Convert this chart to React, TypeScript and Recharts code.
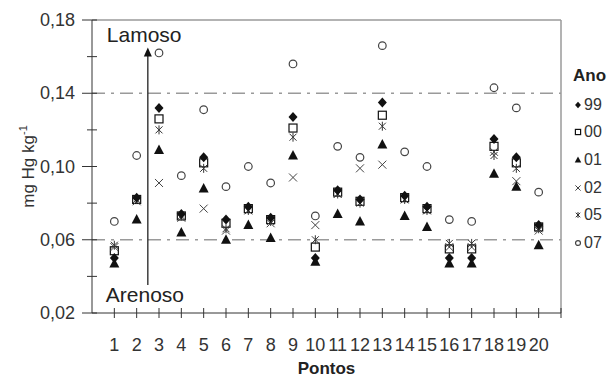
import React from 'react'
import {
  ScatterChart,
  Scatter,
  XAxis,
  YAxis,
  ReferenceLine,
  Label
} from 'recharts'

const pontos = [1, 2, 3, 4, 5, 6, 7, 8, 9, 10, 11, 12, 13, 14, 15, 16, 17, 18, 19, 20]

const ano99 = [0.050, 0.083, 0.132, 0.074, 0.105, 0.071, 0.078, 0.072, 0.127, 0.050, 0.087, 0.082, 0.135, 0.084, 0.078, 0.050, 0.050, 0.115, 0.105, 0.068]
const ano00 = [0.054, 0.082, 0.126, 0.073, 0.102, 0.069, 0.077, 0.071, 0.121, 0.056, 0.086, 0.081, 0.128, 0.083, 0.077, 0.055, 0.055, 0.111, 0.102, 0.067]
const ano01 = [0.047, 0.071, 0.109, 0.064, 0.088, 0.060, 0.068, 0.061, 0.106, 0.048, 0.074, 0.070, 0.112, 0.073, 0.067, 0.047, 0.047, 0.096, 0.089, 0.057]
const ano02 = [0.056, 0.081, 0.091, 0.072, 0.077, 0.065, 0.076, 0.069, 0.094, 0.068, 0.085, 0.099, 0.101, 0.082, 0.076, 0.056, 0.056, 0.108, 0.092, 0.065]
const ano05 = [0.057, 0.082, 0.120, 0.073, 0.099, 0.066, 0.076, 0.070, 0.116, 0.060, 0.085, 0.080, 0.122, 0.082, 0.076, 0.058, 0.058, 0.106, 0.099, 0.066]
const ano07 = [0.070, 0.106, 0.162, 0.095, 0.131, 0.089, 0.100, 0.091, 0.156, 0.073, 0.111, 0.105, 0.166, 0.108, 0.100, 0.071, 0.070, 0.143, 0.132, 0.086]

const yTicks = [0.02, 0.04, 0.06, 0.08, 0.10, 0.12, 0.14, 0.16, 0.18]
const xTicks = [0, 1, 2, 3, 4, 5, 6, 7, 8, 9, 10, 11, 12, 13, 14, 15, 16, 17, 18, 19, 20, 21]

const FONT = '"Liberation Sans", Arial, sans-serif'
const INK = '#222'
const GRAY = '#9a9a9a'

const toPoints = (values: number[]) => pontos.map((p, i) => ({ x: p, y: values[i] }))

type ShapeProps = { cx?: number; cy?: number; k?: number }

const Diamond = ({ cx = 0, cy = 0, k = 1 }: ShapeProps) => (
  <path d={`M${cx},${cy - 5 * k}L${cx + 4.5 * k},${cy}L${cx},${cy + 5 * k}L${cx - 4.5 * k},${cy}Z`} fill="#111" />
)
const Square = ({ cx = 0, cy = 0, k = 1 }: ShapeProps) => (
  <rect x={cx - 4 * k} y={cy - 4 * k} width={8 * k} height={8 * k} fill="none" stroke="#111" strokeWidth={1.2} />
)
const Triangle = ({ cx = 0, cy = 0, k = 1 }: ShapeProps) => (
  <path d={`M${cx},${cy - 5.5 * k}L${cx + 5 * k},${cy + 4 * k}L${cx - 5 * k},${cy + 4 * k}Z`} fill="#111" />
)
const Cross = ({ cx = 0, cy = 0, k = 1 }: ShapeProps) => (
  <path
    d={`M${cx - 4 * k},${cy - 4 * k}L${cx + 4 * k},${cy + 4 * k}M${cx - 4 * k},${cy + 4 * k}L${cx + 4 * k},${cy - 4 * k}`}
    stroke="#444"
    strokeWidth={1}
    fill="none"
  />
)
const Asterisk = ({ cx = 0, cy = 0, k = 1 }: ShapeProps) => (
  <path
    d={`M${cx - 3.5 * k},${cy - 3.5 * k}L${cx + 3.5 * k},${cy + 3.5 * k}M${cx - 3.5 * k},${cy + 3.5 * k}L${cx + 3.5 * k},${cy - 3.5 * k}M${cx},${cy - 4.5 * k}L${cx},${cy + 4.5 * k}`}
    stroke="#333"
    strokeWidth={1}
    fill="none"
  />
)
const Circle = ({ cx = 0, cy = 0, k = 1 }: ShapeProps) => (
  <circle cx={cx} cy={cy} r={3.8 * k} fill="none" stroke="#444" strokeWidth={1.2} />
)

const series = [
  { name: '99', values: ano99, shape: Diamond },
  { name: '00', values: ano00, shape: Square },
  { name: '01', values: ano01, shape: Triangle },
  { name: '02', values: ano02, shape: Cross },
  { name: '05', values: ano05, shape: Asterisk },
  { name: '07', values: ano07, shape: Circle }
]

// drawing order: circles at the back, black triangles on top
const drawOrder = ['07', '00', '02', '05', '99', '01']

const YTick = (props: any) => {
  const { x, y, payload } = props
  const v = payload.value as number
  const major = Math.round(v * 100) % 4 === 2
  return (
    <g>
      <line x1={x - (major ? 10 : 5)} x2={x + 5} y1={y} y2={y} stroke="#333" strokeWidth={1} />
      {major && (
        <text x={x - 17} y={y + 6} textAnchor="end" fontSize={18} fill="#333" fontFamily={FONT}>
          {v.toFixed(2).replace('.', ',')}
        </text>
      )}
    </g>
  )
}

const XTick = (props: any) => {
  const { x, y, payload } = props
  const v = payload.value as number
  if (v < 1) return <g />
  return (
    <g>
      <line x1={x} x2={x} y1={y - 5} y2={y + 5} stroke="#333" strokeWidth={1} />
      {v <= 20 && (
        <text x={x} y={y + 38} textAnchor="middle" fontSize={18} fill="#333" fontFamily={FONT}>
          {v}
        </text>
      )}
    </g>
  )
}

const Arrow = (props: any) => {
  const { x1, y1, x2, y2 } = props
  const top = Math.min(y1, y2)
  const bottom = Math.max(y1, y2)
  return (
    <g>
      <line x1={x1} x2={x2} y1={bottom} y2={top + 6} stroke="#222" strokeWidth={1.3} />
      <path d={`M${x1},${top}L${x1 + 4},${top + 9}L${x1 - 4},${top + 9}Z`} fill="#111" />
      <text x={x1 - 41} y={top - 5} fontSize={21} fill={INK} fontFamily={FONT}>Lamoso</text>
      <text x={x1 - 42} y={bottom + 17} fontSize={21} fill={INK} fontFamily={FONT}>Arenoso</text>
    </g>
  )
}

export default function App() {
  return (
    <div style={{ position: 'absolute', left: 0, top: 0, width: 613, height: 378, background: '#fff', fontFamily: FONT }}>
      <ScatterChart width={613} height={378} margin={{ top: 20, right: 52, bottom: 35, left: 14 }}>
        <XAxis
          type="number"
          dataKey="x"
          domain={[0, 21]}
          ticks={xTicks}
          interval={0}
          height={30}
          tickSize={0}
          tickMargin={0}
          tickLine={false}
          stroke="#333"
          tick={<XTick />}
        >
          <Label
            content={(p: any) => {
              const vb = p.viewBox
              return (
                <text x={vb.x + vb.width / 2} y={vb.y + 61} textAnchor="middle" fontSize={17} fontWeight="bold" fill={INK} fontFamily={FONT}>
                  Pontos
                </text>
              )
            }}
          />
        </XAxis>
        <YAxis
          type="number"
          dataKey="y"
          domain={[0.02, 0.18]}
          ticks={yTicks}
          interval={0}
          width={78}
          tickSize={0}
          tickMargin={0}
          tickLine={false}
          stroke="#333"
          tick={<YTick />}
        >
          <Label
            content={(p: any) => {
              const vb = p.viewBox
              const cx = vb.x + 20
              const cy = vb.y + vb.height / 2
              return (
                <text transform={`rotate(-90 ${cx} ${cy})`} x={cx} y={cy} textAnchor="middle" fontSize={17} fill="#333" fontFamily={FONT}>
                  <tspan>mg Hg kg</tspan>
                  <tspan dy={-7} fontSize={11}>-1</tspan>
                </text>
              )
            }}
          />
        </YAxis>
        <ReferenceLine y={0.18} stroke={GRAY} strokeWidth={1.5} />
        <ReferenceLine x={21} stroke={GRAY} strokeWidth={1.5} />
        <ReferenceLine y={0.14} stroke={GRAY} strokeWidth={1.5} strokeDasharray="13 6 3 6" />
        <ReferenceLine y={0.06} stroke={GRAY} strokeWidth={1.5} strokeDasharray="13 6 3 6" />
        <ReferenceLine
          segment={[{ x: 2.5, y: 0.0353 }, { x: 2.5, y: 0.165 }]}
          shape={<Arrow />}
        />
        {drawOrder.map((name) => {
          const s = series.find((d) => d.name === name)!
          const ShapeComp = s.shape
          return (
            <Scatter
              key={s.name}
              name={s.name}
              data={toPoints(s.values)}
              isAnimationActive={false}
              shape={(p: any) => <ShapeComp cx={p.cx} cy={p.cy} />}
            />
          )
        })}
      </ScatterChart>
      <div style={{ position: 'absolute', left: 573, top: 64, color: INK }}>
        <div style={{ fontSize: 17, fontWeight: 'bold', height: 27, lineHeight: '24px' }}>Ano</div>
        {series.map((s) => {
          const ShapeComp = s.shape
          return (
            <div key={s.name} style={{ display: 'flex', alignItems: 'center', height: 27.6, fontSize: 16, color: '#333' }}>
              <svg width={10} height={12} style={{ marginRight: 1 }}>
                <ShapeComp cx={5} cy={6} k={0.65} />
              </svg>
              <span>{s.name}</span>
            </div>
          )
        })}
      </div>
    </div>
  )
}
